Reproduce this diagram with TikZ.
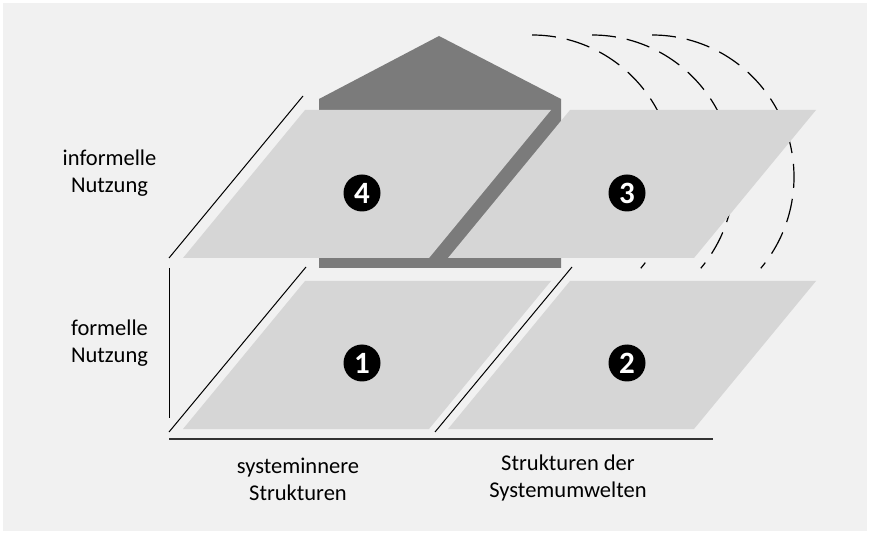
\documentclass[tikz,border=0pt]{standalone}
\usepackage{fontspec}
\setmainfont{Carlito}
\definecolor{bggray}{HTML}{F1F1F1}
\definecolor{panelgray}{HTML}{D6D6D6}
\definecolor{housegray}{HTML}{7B7B7B}
\definecolor{axisgray}{HTML}{333333}

\begin{document}
\begin{tikzpicture}[x=1pt,y=-1pt,
        panel/.style={fill=panelgray},
        house/.style={fill=housegray},
        guide/.style={black,line width=1pt},
        orbit/.style={black,line width=1.2pt,dash pattern=on 24pt off 11pt},
        num/.style={circle,fill=black,text=white,minimum size=37pt,inner sep=0pt,
            font=\fontsize{31}{31}\selectfont\bfseries},
        lbl/.style={align=center,font=\fontsize{22.5}{26.7}\selectfont}]
    \useasboundingbox (0,0) rectangle (870,534);
    \fill[white] (0,0) rectangle (870,534);
    \fill[bggray] (3,3) rectangle (867,531);

    \foreach \cx in {532,592,652} {
        \draw[orbit] (\cx,35) arc[start angle=-90,end angle=40,radius=142];
    }

    \fill[house] (319,268) -- (319,99) -- (439,36) -- (561,99) -- (561,268) -- cycle;

    \foreach \dx/\dy in {0/0,265/0,0/171,265/171} {
        \fill[panel,shift={(\dx,\dy)}] (305,110) -- (551,110) -- (429,258) -- (183,258) -- cycle;
    }

    \draw[guide] (169,258) -- (303,96);
    \draw[guide] (169,268) -- (169,418);
    \draw[guide] (169,432) -- (306,267);
    \draw[guide] (435,432) -- (572,267);
    \draw[axisgray,line width=1.3pt] (169,439) -- (713,439);

    \node[num] (n4) at (362,193) {4};
    \node[num] (n3) at (627,193) {3};
    \node[num] (n1) at (362,363) {1};
    \node[num] (n2) at (627,363) {2};

    \node[lbl] (informal) at (109.5,173) {informelle\\Nutzung};
    \node[lbl] (formal) at (109.5,343) {formelle\\Nutzung};
    \node[lbl] (inner) at (298,479) {systeminnere\\Strukturen};
    \node[lbl] (outer) at (568,478) {Strukturen der\\Systemumwelten};
\end{tikzpicture}
\end{document}
